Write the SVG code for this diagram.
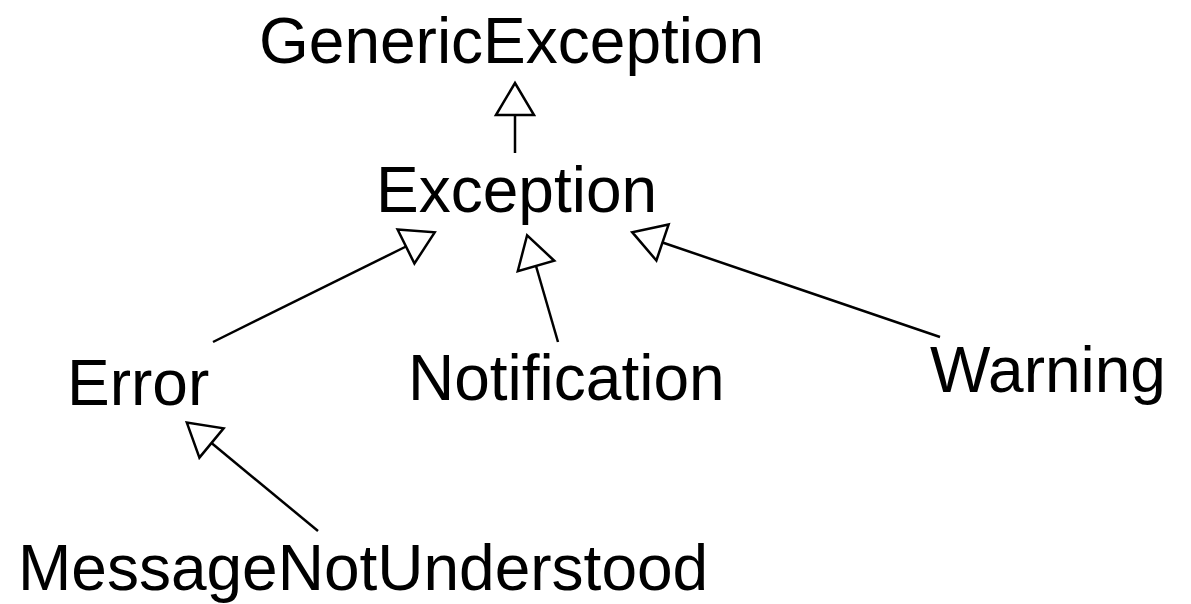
<svg xmlns="http://www.w3.org/2000/svg" width="1191" height="604" viewBox="0 0 1191 604">
  <style>
    .label { font-family: "Liberation Sans", Arial, Helvetica, sans-serif; font-size: 64px; fill: #000; }
    .edge { stroke: #000; stroke-width: 2.5; fill: none; }
  </style>
  <defs>
    <!-- hollow triangle: generalization arrowhead, base at the path end -->
    <marker id="inherit" markerUnits="userSpaceOnUse" markerWidth="40" markerHeight="44" refX="0" refY="0" orient="auto" overflow="visible">
      <path d="M0,-19 L32,0 L0,19 Z" fill="#fff" stroke="#000" stroke-width="2.5" stroke-linejoin="miter"/>
    </marker>
  </defs>
  <rect width="1191" height="604" fill="#fff"/>

  <g id="connectors">
    <path class="edge" d="M515,153 L515,115" marker-end="url(#inherit)"/>
    <path class="edge" d="M213,342 L406,246.5" marker-end="url(#inherit)"/>
    <path class="edge" d="M558,342 L536,266" marker-end="url(#inherit)"/>
    <path class="edge" d="M940,337 L662.5,242.5" marker-end="url(#inherit)"/>
    <path class="edge" d="M318,531 L211.5,443" marker-end="url(#inherit)"/>
  </g>

  <g id="GenericException"><text class="label" x="259" y="63">GenericException</text></g>
  <g id="Exception"><text class="label" x="376" y="212">Exception</text></g>
  <g id="Error"><text class="label" x="67" y="405">Error</text></g>
  <g id="Notification"><text class="label" x="408" y="400">Notification</text></g>
  <g id="Warning"><text class="label" x="930" y="392">Warning</text></g>
  <g id="MessageNotUnderstood"><text class="label" x="18" y="590">MessageNotUnderstood</text></g>
</svg>
